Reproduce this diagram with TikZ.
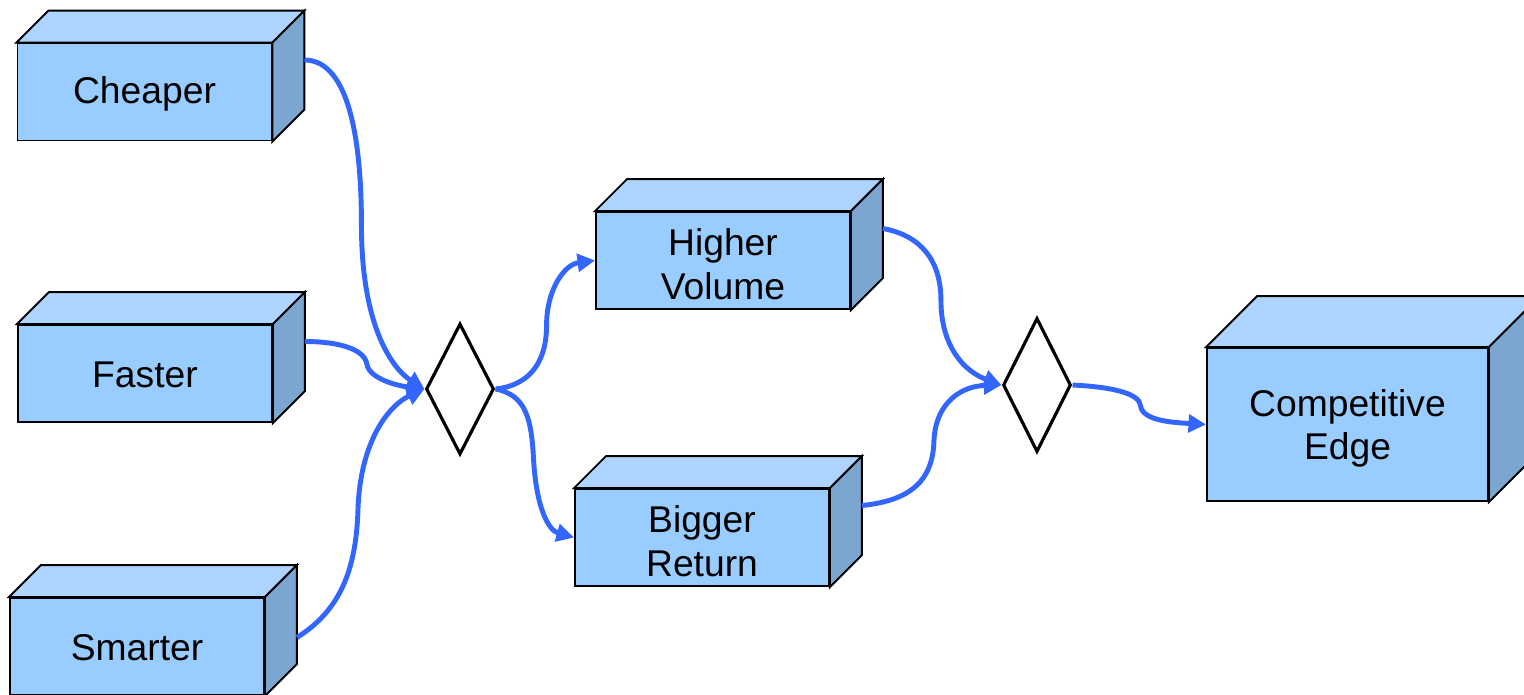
\documentclass[tikz,border=0pt]{standalone}
\usepackage{fontspec}
\setmainfont{Liberation Sans}
\usetikzlibrary{calc,shapes.geometric,arrows.meta}

\definecolor{frontblue}{HTML}{99CCFF}
\definecolor{topblue}{HTML}{ADD5FF}
\definecolor{sideblue}{HTML}{7BA6CF}
\definecolor{linkblue}{HTML}{3366FF}

% top and right faces of a box whose front face is node #1, depth #2
\newcommand\cubefaces[2]{%
  \draw[cubeedge, fill=topblue] (#1.north west) -- ++(#2,-#2)
    -- ($(#1.north east)+(#2,-#2)$) -- (#1.north east) -- cycle;
  \draw[cubeedge, fill=sideblue] (#1.north east) -- ++(#2,-#2)
    -- ($(#1.south east)+(#2,-#2)$) -- (#1.south east) -- cycle;
}

\tikzset{
  cubeedge/.style={draw=black, line width=1.1pt},
  cube/.style={cubeedge, fill=frontblue, rectangle, inner sep=0pt,
    minimum width=5.08cm, minimum height=1.94cm},
  boxtext/.style={align=center, inner sep=0pt, yshift=-2.2pt,
    font=\fontsize{21.2}{25}\selectfont},
  onelinetext/.style={boxtext, yshift=1.4pt},
  gate/.style={diamond, draw=black, line width=1.8pt, fill=white,
    inner sep=0pt, minimum width=1.36cm},
  link/.style={draw=linkblue, line width=2.8pt,
    -{Triangle[length=10pt,width=10pt]}},
}

\begin{document}
\begin{tikzpicture}[x=0.02cm, y=-0.02cm]
  \clip (0,0) rectangle (1524,694);
  \fill[white] (0,0) rectangle (1524,694);

  % input boxes
  \node[cube, label={[onelinetext]center:Cheaper}] (cheap) at (144.5,92) {};
  \cubefaces{cheap}{32}
  \node[cube, label={[onelinetext]center:Faster}] (fast) at (145,373.5) {};
  \cubefaces{fast}{32}
  \node[cube, label={[onelinetext]center:Smarter}] (smart) at (137,646.5) {};
  \cubefaces{smart}{32}

  % intermediate boxes
  \node[cube, label={[boxtext]center:{Higher\\Volume}}] (volume) at (723,260.5) {};
  \cubefaces{volume}{32}
  \node[cube, label={[boxtext]center:{Bigger\\Return}}] (ret) at (702,537.5) {};
  \cubefaces{ret}{32}

  % result box
  \node[cube, minimum width=5.62cm, minimum height=3.06cm,
    label={[boxtext]center:{Competitive\\Edge}}] (edge) at (1347.5,424.5) {};
  \cubefaces{edge}{51}

  % junctions
  \node[gate, minimum height=2.62cm] (j1) at (460,389) {};
  \node[gate, minimum height=2.68cm] (j2) at (1037,385) {};

  % attachment points on the side faces
  \coordinate (cheapout) at ($(cheap.east)+(32,-32)$);
  \coordinate (fastout) at ($(fast.east)+(32,-32)$);
  \coordinate (smartout) at ($(smart.east)+(32,-9)$);
  \coordinate (volout) at ($(volume.east)+(32,-32)$);
  \coordinate (retout) at ($(ret.east)+(32,-32)$);

  % connectors into the first junction
  \path[link] (cheapout) .. controls +(40,0) and +(0,-100) .. ($(cheapout)+(57,165)$)
    .. controls +(0,105) and +(-30,-19) .. (j1.west);
  \path[link] (fastout) .. controls +(35,0) and +(-2,-15) .. ($(fastout)+(62,23)$)
    .. controls +(3,15) and +(-25,-3) .. (j1.west);
  \path[link] (smartout) .. controls +(43,-27) and +(-2,60) .. ($(smartout)+(61,-127)$)
    .. controls +(2,-70) and +(-35,16) .. (j1.west);

  % connectors out of the first junction
  \path[link] (j1.east) .. controls +(36,-4) and +(0,35) .. ($(j1.east)+(51,-64)$)
    .. controls +(0,-35) and +(-31,4) .. (volume.west);
  \path[link] (j1.east) .. controls +(31,6) and +(-2,-40) .. ($(j1.east)+(38,71)$)
    .. controls +(3,50) and +(-25,-7) .. (ret.west);

  % connectors into the second junction
  \path[link] (volout) .. controls +(38,7) and +(0,-40) .. ($(volout)+(58,72)$)
    .. controls +(0,45) and +(-38,-14) .. (j2.west);
  \path[link] (retout) .. controls +(49,-5) and +(-1,40) .. ($(retout)+(72,-65)$)
    .. controls +(2,-40) and +(-38,1) .. (j2.west);

  % connector to the result
  \path[link] (j2.east) .. controls +(39,2) and +(-1,-13) .. ($(j2.east)+(68,21)$)
    .. controls +(2,15) and +(-32,-2) .. (edge.west);
\end{tikzpicture}
\end{document}
